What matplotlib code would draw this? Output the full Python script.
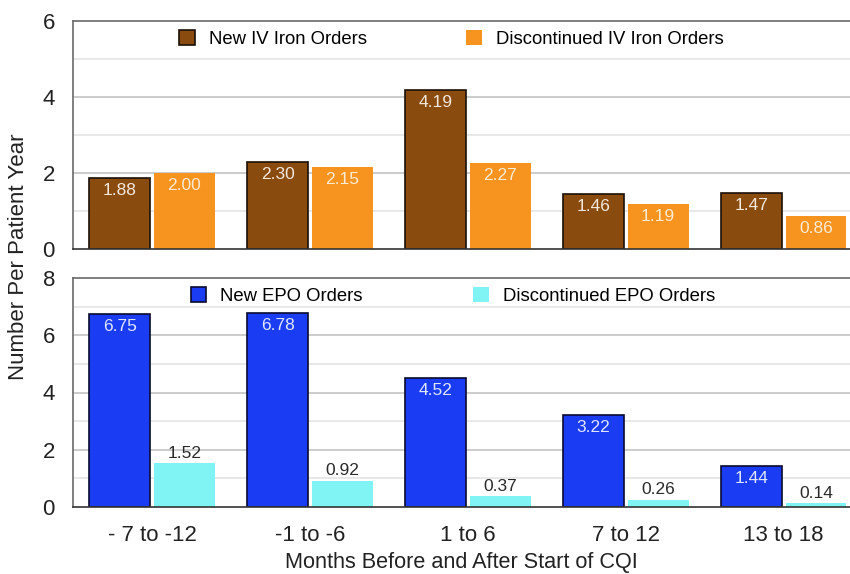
import numpy as np
import matplotlib
matplotlib.use('Agg')
import matplotlib.pyplot as plt

plt.rcParams['font.family'] = ['Liberation Sans', 'DejaVu Sans']

periods = ['- 7 to -12', '-1 to -6', '1 to 6', '7 to 12', '13 to 18']
iron_new = [1.88, 2.30, 4.19, 1.46, 1.47]
iron_disc = [2.00, 2.15, 2.27, 1.19, 0.86]
epo_new = [6.75, 6.78, 4.52, 3.22, 1.44]
epo_disc = [1.52, 0.92, 0.37, 0.26, 0.14]

BROWN, ORANGE = '#8a4b0f', '#f7931f'
BLUE, CYAN = '#1a3cf2', '#80f4f4'

fig = plt.figure(figsize=(8.5, 5.74), dpi=100)
ax1 = fig.add_axes([73 / 850, 1 - 249 / 574, 1 - 73 / 850, 228 / 574])
ax2 = fig.add_axes([73 / 850, 1 - 507 / 574, 1 - 73 / 850, 229 / 574])

x = np.arange(len(periods))
w = 0.385
off = 0.205


def style(ax, ymax, step):
    ax.set_xlim(-0.5, 4.42)
    ax.set_ylim(0, ymax)
    ax.set_yticks(np.arange(0, ymax + 1, step))
    for v in range(1, ymax):
        c = '#c4c4c4' if v % step == 0 else '#e4e4e4'
        ax.axhline(v, color=c, lw=1.2, zorder=0)
    ax.spines['right'].set_visible(False)
    ax.spines['top'].set_color('#6a6a6a')
    ax.spines['left'].set_color('#6a6a6a')
    ax.spines['bottom'].set_color('#333333')
    for s in ax.spines.values():
        s.set_linewidth(1.2)
    ax.tick_params(axis='y', length=0, pad=13, labelsize=16, colors='#222222')
    ax.tick_params(axis='x', length=0)


def labels(ax, bars, vals, color, inside=True):
    for b, v in zip(bars, vals):
        xc = b.get_x() + b.get_width() / 2
        dy = -9 if inside else 7
        ax.annotate('{:.2f}'.format(v), (xc, v), xytext=(0, dy),
                    textcoords='offset points', ha='center', va='center',
                    fontsize=12.5, color=color)


leg_kw = dict(loc='upper center', ncol=2, frameon=False, fontsize=13.3,
              handlelength=0.85, handleheight=0.85, handletextpad=0.75,
              borderaxespad=0.1)

# top panel: IV iron
b1 = ax1.bar(x - off, iron_new, w, color=BROWN, edgecolor='#1a1008', lw=1.2,
             label='New IV Iron Orders', zorder=2)
b2 = ax1.bar(x + off, iron_disc, w, color=ORANGE, lw=0,
             label='Discontinued IV Iron Orders', zorder=2)
style(ax1, 6, 2)
ax1.set_xticks([])
labels(ax1, b1, iron_new, '#f3e8dc')
labels(ax1, b2, iron_disc, '#fdebd3')
ax1.legend(bbox_to_anchor=(0.487, 1.0), columnspacing=5.4, **leg_kw)

# bottom panel: EPO
b3 = ax2.bar(x - off, epo_new, w, color=BLUE, edgecolor='#0a0a30', lw=1.2,
             label='New EPO Orders', zorder=2)
b4 = ax2.bar(x + off, epo_disc, w, color=CYAN, lw=0,
             label='Discontinued EPO Orders', zorder=2)
style(ax2, 8, 2)
ax2.set_xticks(x)
ax2.set_xticklabels(periods, fontsize=16, color='#222222')
ax2.tick_params(axis='x', pad=13)
labels(ax2, b3, epo_new, '#dfe6ff')
labels(ax2, b4, epo_disc, '#2a2a2a', inside=False)
ax2.legend(bbox_to_anchor=(0.489, 1.0), columnspacing=6.0, **leg_kw)
ax2.set_xlabel('Months Before and After Start of CQI', fontsize=15.6,
               color='#222222', labelpad=4)

fig.text(19 / 850, 1 - 257 / 574, 'Number Per Patient Year', rotation=90,
         ha='center', va='center', fontsize=16, color='#222222')

fig.savefig('out.png', dpi=100)
